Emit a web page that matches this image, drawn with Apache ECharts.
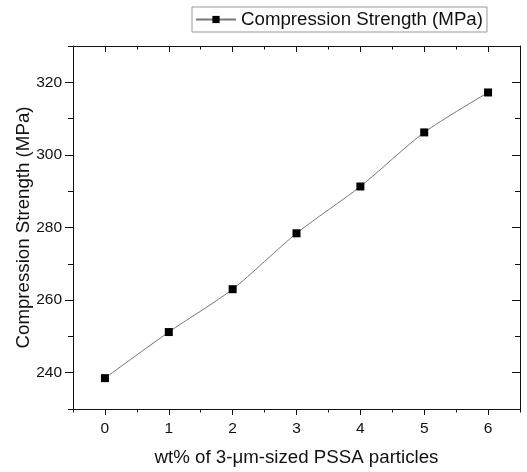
<!DOCTYPE html>
<html>
<head>
<meta charset="utf-8">
<script src="https://cdn.jsdelivr.net/npm/echarts@6/dist/echarts.min.js"></script>
<style>
  html, body { margin: 0; padding: 0; background: #fff; }
  #chart { width: 527px; height: 472px; }
</style>
</head>
<body>
<div id="chart"></div>
<script>
// data
var xValues = [0, 1, 2, 3, 4, 5, 6];
var strength = [238.5, 251.2, 263.0, 278.4, 291.3, 306.2, 317.2];
var xTicks = [0, 1, 2, 3, 4, 5, 6];
var yTicks = [240, 260, 280, 300, 320];
var seriesName = 'Compression Strength (MPa)';

var font = 'Arial, "Liberation Sans", sans-serif';
var ink = '#111';

var pts = [];
for (var i = 0; i < xValues.length; i++) {
  pts.push([xValues[i], strength[i]]);
}

var chart = echarts.init(document.getElementById('chart'), null, { renderer: 'canvas' });

// one axis carries the long ticks + labels, a twin carries the short ones
function xAx(pos, major, inside) {
  return {
    type: 'value', position: pos, min: -0.5, max: 6.5,
    interval: 0.5,
    axisLine: { show: major, onZero: false, lineStyle: { color: ink, width: 1 } },
    axisTick: major
      ? { show: true, inside: inside, length: 6, customValues: xTicks, lineStyle: { color: ink } }
      : { show: true, inside: inside, length: 3.5, lineStyle: { color: ink } },
    axisLabel: (major && pos === 'bottom')
      ? { show: true, customValues: xTicks, margin: 12, color: ink, fontSize: 15.5, fontFamily: font }
      : { show: false },
    splitLine: { show: false }
  };
}
function yAx(pos, major, inside) {
  return {
    type: 'value', position: pos, min: 230, max: 330,
    interval: 10,
    axisLine: { show: major, onZero: false, lineStyle: { color: ink, width: 1 } },
    axisTick: major
      ? { show: true, inside: inside, length: 8, customValues: yTicks, lineStyle: { color: ink } }
      : { show: true, inside: inside, length: 5, lineStyle: { color: ink } },
    axisLabel: (major && pos === 'left')
      ? { show: true, customValues: yTicks, margin: 11, color: ink, fontSize: 15.5, fontFamily: font }
      : { show: false },
    splitLine: { show: false }
  };
}

var xb = xAx('bottom', true, false);
xb.name = 'wt% of 3-\u03bcm-sized PSSA particles';
xb.nameLocation = 'middle';
xb.nameGap = 39;
xb.nameTextStyle = { color: ink, fontSize: 18.7, fontFamily: font };

var yl = yAx('left', true, false);
yl.name = 'Compression Strength (MPa)';
yl.nameLocation = 'middle';
yl.nameGap = 40;
yl.nameMoveOverlap = false;
yl.nameTextStyle = { color: ink, fontSize: 18.7, fontFamily: font };

chart.setOption({
  backgroundColor: '#fff',
  animation: false,
  grid: { left: 73, top: 46, right: 7, bottom: 63, containLabel: false },
  legend: {
    show: true,
    left: 192, top: 7,
    itemWidth: 40, itemHeight: 9,
    itemGap: 5,
    padding: [3, 4, 3, 3],
    borderColor: '#999', borderWidth: 1,
    textStyle: { color: ink, fontSize: 18.7, fontFamily: font },
    data: [seriesName]
  },
  xAxis: [xb, xAx('bottom', false, false), xAx('top', true, true), xAx('top', false, true)],
  yAxis: [yl, yAx('left', false, false), yAx('right', true, true), yAx('right', false, true)],
  series: [{
    name: seriesName,
    type: 'line',
    xAxisIndex: 0, yAxisIndex: 0,
    data: pts,
    smooth: 0.25,
    symbol: 'rect',
    symbolSize: 8,
    itemStyle: { color: '#000' },
    lineStyle: { color: '#777', width: 1 }
  }]
});
</script>
</body>
</html>
